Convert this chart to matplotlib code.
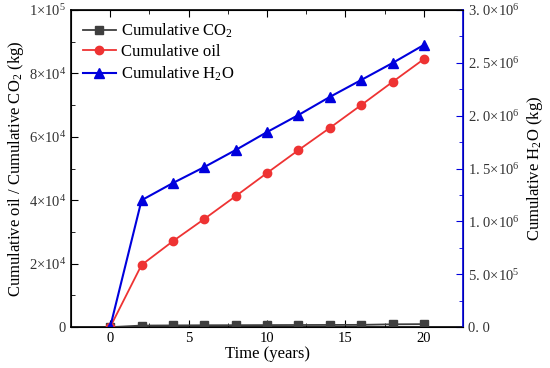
import numpy as np
import matplotlib
matplotlib.use("Agg")
import matplotlib.pyplot as plt
from matplotlib.ticker import MultipleLocator, FuncFormatter

plt.rcParams['font.family'] = ['Liberation Serif', 'DejaVu Serif']
plt.rcParams['mathtext.fontset'] = 'custom'
plt.rcParams['mathtext.rm'] = 'Liberation Serif'
plt.rcParams['mathtext.it'] = 'Liberation Serif:italic'

# data
years = [0, 2, 4, 6, 8, 10, 12, 14, 16, 18, 20]
co2 = [0, 500, 550, 600, 620, 650, 680, 700, 720, 900, 950]
oil = [0, 19600, 27100, 34100, 41300, 48600, 55800, 62800, 70000, 77300, 84500]
h2o = [0, 1.20e6, 1.363e6, 1.514e6, 1.675e6, 1.845e6, 2.006e6, 2.177e6,
       2.337e6, 2.498e6, 2.669e6]

left_ticks = {0: "0", 2e4: r"2$\times$10$^{4}$", 4e4: r"4$\times$10$^{4}$",
              6e4: r"6$\times$10$^{4}$", 8e4: r"8$\times$10$^{4}$",
              1e5: r"1$\times$10$^{5}$"}
right_ticks = {0: "0. 0", 5e5: r"5. 0$\times$10$^{5}$", 1e6: r"1. 0$\times$10$^{6}$",
               1.5e6: r"1. 5$\times$10$^{6}$", 2e6: r"2. 0$\times$10$^{6}$",
               2.5e6: r"2. 5$\times$10$^{6}$", 3e6: r"3. 0$\times$10$^{6}$"}

fig = plt.figure(figsize=(5.5, 3.68), dpi=100)
ax = fig.add_axes([0.129, 0.111, 0.713, 0.862])
ax2 = ax.twinx()

gray = "#3f3f3f"
red = "#ee3333"
blue = "#0000dd"

l1, = ax.plot(years, co2, color=gray, marker="s", ms=5.5, lw=1.3,
              label=r"Cumulative CO$_2$", zorder=3)
l2, = ax.plot(years, oil, color=red, marker="o", ms=6, lw=1.3,
              label="Cumulative oil", zorder=3)
l3, = ax2.plot(years, h2o, color=blue, marker="^", ms=6.5, lw=1.5,
               label=r"Cumulative H$_2$O")

ax.set_xlim(-2.5, 22.5)
ax.set_ylim(0, 1e5)
ax2.set_ylim(0, 3e6)

ax.xaxis.set_major_locator(MultipleLocator(5))
ax.xaxis.set_minor_locator(MultipleLocator(2.5))
ax.yaxis.set_major_locator(MultipleLocator(2e4))
ax.yaxis.set_minor_locator(MultipleLocator(1e4))
ax2.yaxis.set_major_locator(MultipleLocator(5e5))
ax2.yaxis.set_minor_locator(MultipleLocator(2.5e5))

ax.yaxis.set_major_formatter(FuncFormatter(lambda v, p: left_ticks.get(round(v), "")))
ax2.yaxis.set_major_formatter(FuncFormatter(lambda v, p: right_ticks.get(round(v), "")))

ax.tick_params(which="both", direction="in", top=True, right=False, labelsize=10.5)
ax.tick_params(which="major", length=5)
ax.tick_params(which="minor", length=3)
ax.tick_params(axis="y", colors="black", labelcolor="#333333")
ax2.tick_params(which="both", direction="in", colors=blue, labelcolor="#333333",
                labelsize=10.5)
ax2.tick_params(which="major", length=5)
ax2.tick_params(which="minor", length=3)
ax2.spines["right"].set_color(blue)
ax2.spines["right"].set_linewidth(1.2)
for s in ["left", "top", "bottom"]:
    ax.spines[s].set_linewidth(1.2)

ax.set_xlabel("Time (years)", fontsize=12, labelpad=1)
ax.set_ylabel(r"Cumulative oil / Cumulative CO$_2$ (kg)", fontsize=12, labelpad=2)
ax2.set_ylabel(r"Cumulative H$_2$O (kg)", fontsize=12, labelpad=4)

ax2.legend([l1, l2, l3], [l1.get_label(), l2.get_label(), l3.get_label()],
           loc="upper left", frameon=False, fontsize=12, handlelength=2.0,
           handletextpad=0.3, labelspacing=0.25, borderaxespad=0.3)

fig.savefig("out.png", dpi=100)
